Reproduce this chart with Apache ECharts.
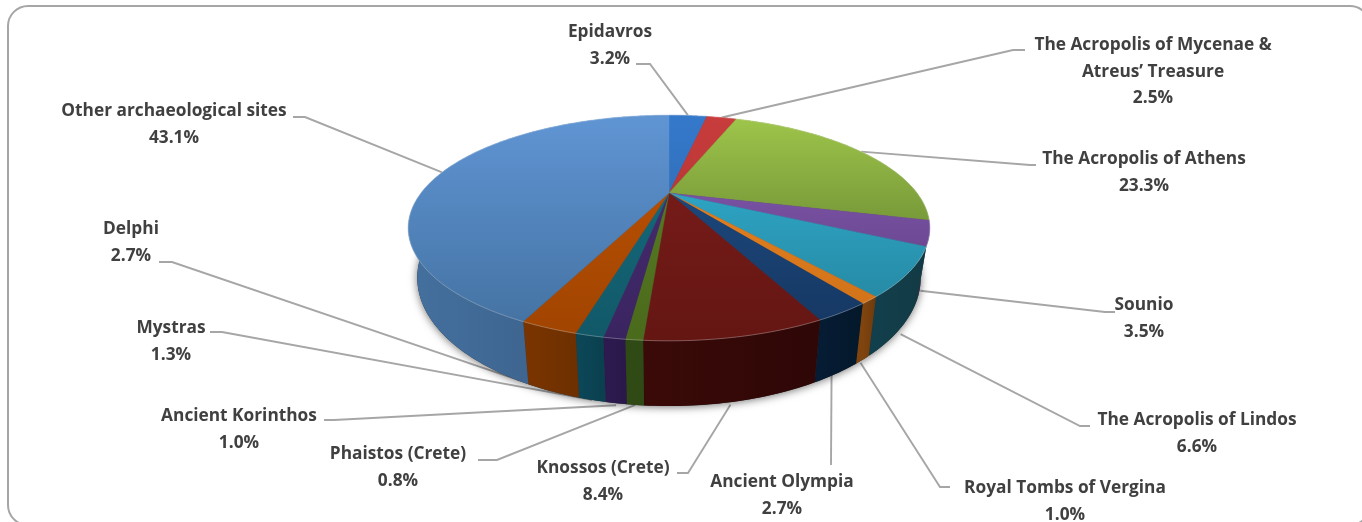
<!DOCTYPE html>
<html>
<head>
<meta charset="utf-8">
<style>html,body{margin:0;padding:0;background:#fff}#c{width:1362px;height:522px}</style>
<script src="https://cdn.jsdelivr.net/npm/echarts@6/dist/echarts.min.js"></script>
</head>
<body>
<div id="c"></div>
<script>
const categories = ['Epidavros','The Acropolis of Mycenae &\nAtreus’ Treasure','The Acropolis of Athens','Sounio','The Acropolis of Lindos','Royal Tombs of Vergina','Ancient Olympia','Knossos (Crete)','Phaistos (Crete)','Ancient Korinthos','Mystras','Delphi','Other archaeological sites'];
const shares = [3.2,2.5,23.3,3.5,6.6,1.0,2.7,8.4,0.8,1.0,1.3,2.7,43.1];

// styling: top face gradient (back, front), wall gradient (left, right)
const topBack  = ['#3579CC','#C83C3C','#9FC64B','#8A5EBA','#33B6DA','#F08624','#20508A','#7E1E1B','#5E8026','#4A2F74','#166F82','#C05404','#6095D4'];
const topFront = ['#2A5F9E','#A52E2E','#4B6724','#583A78','#238098','#CC7018','#153660','#641613','#4A6A1C','#3A2460','#115868','#A04400','#42709F'];
const wallLeft  = ['#1F4A7C','#7E2222','#4E6A20','#3E2A58','#123F4C','#80450F','#061C34','#3A0A08','#2F4A14','#2E1A50','#0C4858','#7A3400','#44709F'];
const wallRight = ['#1F4A7C','#7E2222','#4E6A20','#3E2A58','#123A44','#6E3A0C','#04182A','#2E0706','#2F4A14','#2A184A','#0A4050','#6E3000','#37597F'];

// leader layout: start on rim ('top') or wall foot ('wall') at the slice's mid angle
const leaderKind = ['top','top','top','wall','wall','wall','wall','wall','wall','wall','wall','wall','top'];
const leaderNudge = [[0,0],[0,0],[0,0],[0,7],[0,6],[-2,3],[-5,0],[-4,3],[0,0],[0,2],[0,0],[0,0],[0,0]];
const leaderBends = [[[650,64],[636,64]],[[1013,50],[1025,50]],[[1030,165],[1036,165]],[[1105,312],[1115,312]],[[1080,426],[1090,426]],[[940,487],[950,487]],[[831,465]],[[688,473],[677,473]],[[497,460],[478,460]],[[334,420],[324,420]],[[222,332],[210,332]],[[172,262],[159,262]],[[305,117],[293,117]]];
const labelPos = [[610,31],[1153,44],[1144,158],[1144,304],[1197,419],[1065,487],[782,481],[603,467],[398,453],[239,415],[171,327],[131,228],[174,110]];

const CX = 669, CY = 193, A = 248, B = 102, K = 0.31, H = 45, FOOT = 0.965;
const FONT = '"Open Sans"', FS = 17.3, LH = 26.5;

const total = shares.reduce((s, v) => s + v, 0);
let run = 0;
const starts = shares.map(v => { const s = run; run += v; return s; });
const ang = p => p / total * Math.PI * 2;

function project(t, drop) {
  const u = Math.sin(t), v = Math.cos(t), d = 1 + K * v;
  return [CX + A * u / d * (drop ? FOOT : 1), CY + (-B * v + drop) / d];
}
function arc(t0, t1, drop) {
  const n = Math.max(2, Math.ceil((t1 - t0) / 0.015)), pts = [];
  for (let i = 0; i <= n; i++) pts.push(project(t0 + (t1 - t0) * i / n, drop));
  return pts;
}
const seriesData = shares.map((v, i) => [i, v]);

function renderLeader(params, api) {
  const i = api.value(0), mid = ang(starts[i] + api.value(1) / 2);
  const a = project(mid, leaderKind[i] === 'wall' ? H : 0);
  const n = leaderNudge[i];
  const pts = [[a[0] + n[0], a[1] + n[1]]].concat(leaderBends[i]);
  const text = categories[i] + '\n' + api.value(1).toFixed(1) + '%';
  return { type: 'group', children: [
    { type: 'polyline', shape: { points: pts }, style: { stroke: '#A6A6A6', lineWidth: 1.9, fill: null }, silent: true },
    { type: 'text', style: { text, x: labelPos[i][0], y: labelPos[i][1] - LH / 2 + 1.5, align: 'center', verticalAlign: 'top',
        fontFamily: FONT, fontWeight: 'bold', fontSize: FS, lineHeight: LH, fill: '#404040' } }
  ]};
}
function renderShadow() {
  return { type: 'polygon', shape: { points: arc(0, Math.PI * 2, H) },
    style: { fill: '#333', shadowBlur: 9, shadowColor: 'rgba(0,0,0,0.55)', shadowOffsetY: 1 } };
}
function renderWall(params, api) {
  const i = api.value(0), t0 = ang(starts[i]), t1 = ang(starts[i] + api.value(1));
  const up = arc(t0, t1, 0), low = arc(t0, t1, H).reverse();
  const xs = up.map(p => p[0]);
  const x0 = Math.min.apply(null, xs), x1 = Math.max.apply(null, xs);
  return { type: 'polygon', shape: { points: up.concat(low) },
    style: { fill: new echarts.graphic.LinearGradient(x0, 0, x1, 0,
      [{ offset: 0, color: wallLeft[i] }, { offset: 1, color: wallRight[i] }], true), stroke: 'rgba(0,0,0,0.06)', lineWidth: 0.3 } };
}
function renderTop(params, api) {
  const i = api.value(0), t0 = ang(starts[i]), t1 = ang(starts[i] + api.value(1));
  const rim = arc(t0, t1, 0);
  const fill = new echarts.graphic.LinearGradient(0, CY - B / (1 + K), 0, CY + B / (1 - K),
    [{ offset: 0, color: topBack[i] }, { offset: 1, color: topFront[i] }], true);
  return { type: 'group', children: [
    { type: 'polygon', shape: { points: [[CX, CY]].concat(rim) }, style: { fill, stroke: fill, lineWidth: 0.4 } },
    { type: 'polyline', shape: { points: rim }, style: { stroke: 'rgba(255,255,255,0.28)', lineWidth: 1, fill: null } }
  ]};
}
const base = { type: 'custom', coordinateSystem: 'none', silent: true, animation: false, clip: false };
const chart = echarts.init(document.getElementById('c'), null, { renderer: 'canvas' });
chart.setOption({
  animation: false,
  backgroundColor: '#fff',
  graphic: [{ type: 'rect', z: 0, shape: { x: 8, y: 6, width: 1362, height: 519, r: 20 },
    style: { fill: '#fff', stroke: '#A6A6A6', lineWidth: 2 }, silent: true }],
  series: [
    Object.assign({}, base, { z: 1, data: seriesData, renderItem: renderLeader }),
    Object.assign({}, base, { z: 2, data: [[0]], renderItem: renderShadow }),
    Object.assign({}, base, { z: 3, data: seriesData, renderItem: renderWall }),
    Object.assign({}, base, { z: 4, data: seriesData, renderItem: renderTop })
  ]
});
</script>
</body>
</html>
